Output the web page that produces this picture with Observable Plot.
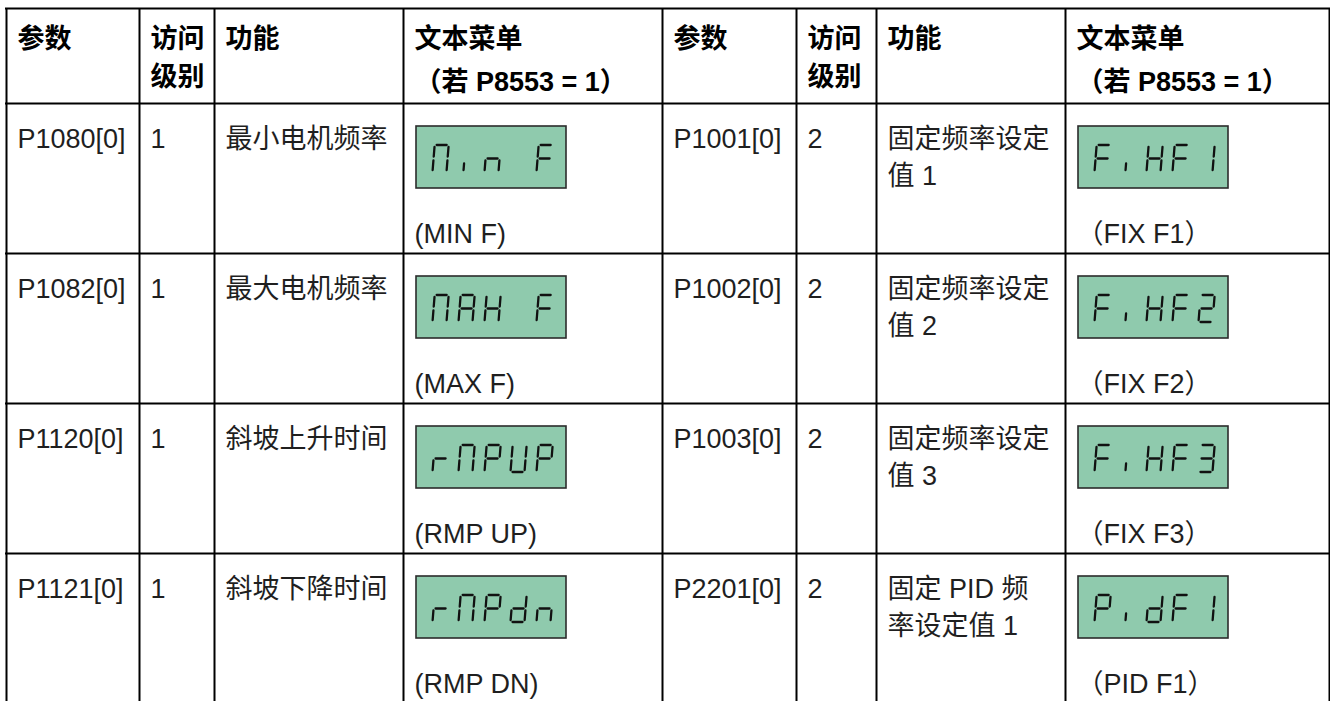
<!DOCTYPE html>
<html><head><meta charset="utf-8">
<script src="https://cdn.jsdelivr.net/npm/d3@7"></script>
<script src="https://cdn.jsdelivr.net/npm/@observablehq/plot@0.6"></script>
<style>
html,body{margin:0;padding:0;background:#fff;}
#chart svg{display:block}
</style>
</head><body><div id="chart"></div>
<script>
// ---- table content ----
const headers = ["参数", "访问\n级别", "功能", "文本菜单\n（若 P8553 = 1）"];

const leftParams = ["P1080[0]", "P1082[0]", "P1120[0]", "P1121[0]"];
const leftLevels = ["1", "1", "1", "1"];
const leftFunctions = ["最小电机频率", "最大电机频率", "斜坡上升时间", "斜坡下降时间"];
const leftDisplays = ["Min F", "MAH F", "rMPUP", "rMPdn"];
const leftLabels = ["(MIN F)", "(MAX F)", "(RMP UP)", "(RMP DN)"];

const rightParams = ["P1001[0]", "P1002[0]", "P1003[0]", "P2201[0]"];
const rightLevels = ["2", "2", "2", "2"];
const rightFunctions = ["固定频率设定\n值 1", "固定频率设定\n值 2", "固定频率设定\n值 3", "固定 PID 频\n率设定值 1"];
const rightDisplays = ["FiHF1", "FiHF2", "FiHF3", "PidF1"];
const rightLabels = ["（FIX F1）", "（FIX F2）", "（FIX F3）", "（PID F1）"];

// seven-segment glyph definitions (segments a..g, "i" = short lower stroke)
const SEGMENTS = {
  "M": "abcef", "i": "i", "n": "ceg", " ": "", "F": "aefg", "A": "abcefg",
  "H": "bcefg", "r": "eg", "P": "abefg", "U": "bcdef", "d": "bcdeg",
  "1": "bc", "2": "abdeg", "3": "abcdg"
};

// ---- layout ----
const COLS = [6, 139, 214, 403, 662, 796, 876, 1065, 1329];
const ROWS = [8, 103, 253, 403, 553, 703];
const PAD = 11, FONT = 27, LINE = 37, BASE = 44, LABEL_BASE = 139;
const HEAD_BASE = 39, HEAD_LINE = [38, 38, 38, 43];
const BOX = {dx: 13, dy: 23, w: 150, h: 62};
const DIG = {w: 14, h: 27, pitch: 26, gap: 2, slant: 0.08};

const halves = [
  {c: 0, params: leftParams, levels: leftLevels, funcs: leftFunctions, disp: leftDisplays, labels: leftLabels},
  {c: 4, params: rightParams, levels: rightLevels, funcs: rightFunctions, disp: rightDisplays, labels: rightLabels}
];

const headerTexts = [], bodyTexts = [], boxes = [], segs = [];
function pushLines(arr, str, x, y0, step = LINE) {
  str.split("\n").forEach((t, k) => arr.push({x, y: y0 + k * step, t}));
}
for (const h of halves) {
  headers.forEach((s, j) => pushLines(headerTexts, s, COLS[h.c + j] + PAD, ROWS[0] + HEAD_BASE, HEAD_LINE[j]));
  for (let r = 0; r < 4; r++) {
    const top = ROWS[r + 1];
    pushLines(bodyTexts, h.params[r], COLS[h.c] + PAD, top + BASE);
    pushLines(bodyTexts, h.levels[r], COLS[h.c + 1] + PAD, top + BASE);
    pushLines(bodyTexts, h.funcs[r], COLS[h.c + 2] + PAD, top + BASE);
    pushLines(bodyTexts, h.labels[r], COLS[h.c + 3] + PAD, top + LABEL_BASE);
    const bx = COLS[h.c + 3] + BOX.dx, by = top + BOX.dy;
    boxes.push({x1: bx, x2: bx + BOX.w, y1: by, y2: by + BOX.h});
    const chars = h.disp[r].split("");
    const totalW = (chars.length - 1) * DIG.pitch + DIG.w;
    const gx0 = bx + (BOX.w - totalW) / 2, gy0 = by + (BOX.h - DIG.h) / 2 + 1;
    chars.forEach((ch, k) => {
      const x0 = gx0 + k * DIG.pitch, w = DIG.w, hh = DIG.h, g = DIG.gap, m = hh / 2;
      const P = {
        a: [g, 0, w - g, 0], b: [w, g, w, m - g], c: [w, m + g, w, hh - g], d: [g, hh, w - g, hh],
        e: [0, m + g, 0, hh - g], f: [0, g, 0, m - g], g: [g, m, w - g, m],
        i: [w * 0.35, m + 5, w * 0.35, hh - 2]
      };
      for (const s of (SEGMENTS[ch] || "")) {
        const [ax, ay, bx2, by2] = P[s];
        segs.push({
          x1: x0 + ax + (hh - ay) * DIG.slant, y1: gy0 + ay,
          x2: x0 + bx2 + (hh - by2) * DIG.slant, y2: gy0 + by2
        });
      }
    });
  }
}

const chart = Plot.plot({
  width: 1330, height: 701, margin: 0,
  x: {domain: [0, 1330], range: [0, 1330], axis: null},
  y: {domain: [0, 701], range: [0, 701], axis: null},
  style: {background: "#fff"},
  marks: [
    Plot.rect(boxes, {x1: "x1", x2: "x2", y1: "y1", y2: "y2", fill: "#8fcaad", stroke: "#2b2b2b", strokeWidth: 1.6}),
    Plot.link(segs, {x1: "x1", y1: "y1", x2: "x2", y2: "y2", stroke: "#111", strokeWidth: 2.3, strokeLinecap: "round"}),
    Plot.ruleX(COLS, {x: d => d, y1: ROWS[0], y2: ROWS[ROWS.length - 1], stroke: "#000", strokeWidth: 2}),
    Plot.ruleY(ROWS, {y: d => d, x1: COLS[0] - 1, x2: COLS[COLS.length - 1] + 1, stroke: "#000", strokeWidth: 2}),
    Plot.text(headerTexts, {x: "x", y: "y", text: "t", textAnchor: "start", lineAnchor: "bottom",
      fontSize: FONT, fontWeight: "bold", fill: "#000", fontFamily: "'Liberation Sans', 'Noto Sans CJK SC', sans-serif"}),
    Plot.text(bodyTexts, {x: "x", y: "y", text: "t", textAnchor: "start", lineAnchor: "bottom",
      fontSize: FONT, fill: "#1f1f1f", fontFamily: "'Liberation Sans', 'Noto Sans CJK SC', sans-serif"})
  ]
});
document.getElementById("chart").appendChild(chart);
</script>
</body></html>
